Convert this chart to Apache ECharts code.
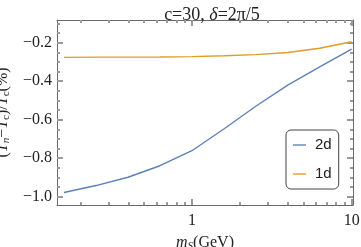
<!DOCTYPE html>
<html><head><meta charset="utf-8">
<script src="https://cdn.jsdelivr.net/npm/echarts@6/dist/echarts.min.js"></script>
<style>html,body{margin:0;padding:0;background:#fff}#c{width:361px;height:247px}</style>
</head><body><div id="c"></div>
<script>
// m_S values (GeV), log-spaced sample points
const massGeV = [0.158, 0.251, 0.398, 0.631, 1, 1.585, 2.512, 3.981, 6.310, 10];
// (T_n - T_c)/T_c (%)
const dT2d = [-0.978, -0.942, -0.899, -0.839, -0.761, -0.648, -0.530, -0.420, -0.326, -0.233];
const dT1d = [-0.276, -0.275, -0.275, -0.274, -0.272, -0.268, -0.262, -0.251, -0.229, -0.195];
const seriesNames = ['2d', '1d'];
const xMajorTicks = [1, 10];
const xMinorTicks = [0.2, 0.3, 0.4, 0.5, 0.6, 0.7, 0.8, 0.9, 2, 3, 4, 5, 6, 7, 8, 9];
const yMajorTicks = [-1.0, -0.8, -0.6, -0.4, -0.2];
const yMinorTicks = [-0.95, -0.9, -0.85, -0.75, -0.7, -0.65, -0.55, -0.5, -0.45, -0.35, -0.3, -0.25, -0.15, -0.1];

const X_MIN = 0.143, X_MAX = 10.2, Y_MIN = -1.043, Y_MAX = -0.082;
const frameColor = '#6a6a6a';
const tickColor = '#9a9a9a';
const serif = 'Liberation Serif';

function xAx(pos, ticks, len, showLine, extra) {
  return Object.assign({
    type: 'log', min: X_MIN, max: X_MAX, position: pos,
    splitLine: { show: false },
    axisLine: { show: showLine, lineStyle: { color: frameColor, width: 1 } },
    axisTick: { show: true, inside: true, length: len, customValues: ticks, lineStyle: { color: tickColor, width: 2 } },
    axisLabel: { show: false }
  }, extra || {});
}
function yAx(pos, ticks, len, showLine, extra) {
  return Object.assign({
    type: 'value', min: Y_MIN, max: Y_MAX, position: pos,
    splitLine: { show: false },
    axisLine: { show: showLine, lineStyle: { color: frameColor, width: 1 } },
    axisTick: { show: true, inside: true, length: len, customValues: ticks, lineStyle: { color: tickColor, width: 2 } },
    axisLabel: { show: false }
  }, extra || {});
}

const chart = echarts.init(document.getElementById('c'));
chart.setOption({
  animation: false,
  backgroundColor: '#fff',
  title: {
    text: 'c=30, {i|δ}=2π/5', left: 207, top: 1, textAlign: 'center',
    textStyle: { fontFamily: serif, fontSize: 18, fontWeight: 'normal', color: '#222',
      rich: { i: { fontFamily: serif, fontSize: 18, fontStyle: 'italic', color: '#222' } } }
  },
  grid: { left: 57, right: 8, top: 20, bottom: 42, containLabel: false, outerBoundsMode: 'none' },
  legend: {
    orient: 'vertical', left: 286, top: 130,
    data: [
      { name: seriesNames[0], itemStyle: { color: '#8FA9D3' } },
      { name: seriesNames[1], itemStyle: { color: '#EDBB68' } }
    ],
    icon: 'rect', itemWidth: 13, itemHeight: 2, itemGap: 13,
    padding: [7, 7, 7, 7], borderColor: '#444', borderWidth: 1, borderRadius: 5,
    textStyle: { fontFamily: 'Liberation Sans', fontSize: 15, color: '#222', padding: [0, 0, 0, 4], lineHeight: 16 }
  },
  xAxis: [
    xAx('bottom', xMajorTicks, 6, true, {
      axisLabel: { show: true, customValues: xMajorTicks, color: '#222', fontFamily: serif, fontSize: 16 },
      name: '{it|m}{sub|S}(GeV)', nameLocation: 'middle', nameGap: 15,
      nameTextStyle: { fontFamily: serif, fontSize: 16, color: '#222', lineHeight: 18,
        rich: { it: { fontFamily: serif, fontStyle: 'italic', fontSize: 16, color: '#222', lineHeight: 18 },
                sub: { fontFamily: serif, fontStyle: 'italic', fontSize: 11, color: '#222', verticalAlign: 'bottom', lineHeight: 10 } } }
    }),
    xAx('bottom', xMinorTicks, 3, false),
    xAx('top', xMajorTicks, 6, true),
    xAx('top', xMinorTicks, 3, false)
  ],
  yAxis: [
    yAx('left', yMajorTicks, 6, true, {
      axisLabel: { show: true, customValues: yMajorTicks, margin: 5, color: '#222', fontFamily: serif, fontSize: 16,
        formatter: v => (v < 0 ? '\u2212' : '') + Math.abs(v).toFixed(1) },
      name: '({it|T}{sub|n}\u2212{it|T}{subr|c})/{it|T}{subr|c}(%)', nameLocation: 'middle', nameGap: 30,
      nameTextStyle: { fontFamily: serif, fontSize: 16, color: '#222', lineHeight: 18,
        rich: { it: { fontFamily: serif, fontStyle: 'italic', fontSize: 16, color: '#222', lineHeight: 18 },
                sub: { fontFamily: serif, fontStyle: 'italic', fontSize: 11, color: '#222', verticalAlign: 'bottom', lineHeight: 10 },
                subr: { fontFamily: serif, fontSize: 11, color: '#222', verticalAlign: 'bottom', lineHeight: 10 } } }
    }),
    yAx('left', yMinorTicks, 3, false),
    yAx('right', yMajorTicks, 6, true),
    yAx('right', yMinorTicks, 3, false)
  ],
  series: [
    { name: seriesNames[0], type: 'line', xAxisIndex: 0, yAxisIndex: 0, showSymbol: false,
      data: massGeV.map((m, i) => [m, dT2d[i]]),
      lineStyle: { color: '#5E81B5', width: 1.4 }, itemStyle: { color: '#5E81B5' } },
    { name: seriesNames[1], type: 'line', xAxisIndex: 0, yAxisIndex: 0, showSymbol: false,
      data: massGeV.map((m, i) => [m, dT1d[i]]),
      lineStyle: { color: '#E19C24', width: 1.4 }, itemStyle: { color: '#E19C24' } }
  ]
});
</script></body></html>
